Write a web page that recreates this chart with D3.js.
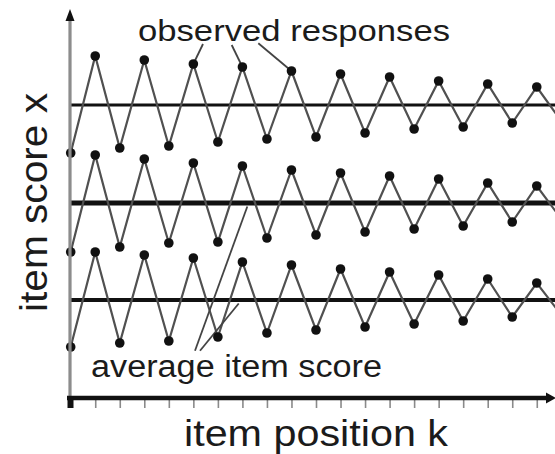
<!DOCTYPE html>
<html>
<head>
<meta charset="utf-8">
<script src="https://cdn.jsdelivr.net/npm/d3@7"></script>
<style>
  body { margin: 0; background: #fff; }
  text { font-family: "Liberation Sans", Arial, sans-serif; fill: #1b1b1b; }
</style>
</head>
<body>
<svg id="chart" width="555" height="454"></svg>
<script>
// Item positions k along the test
const positions = [0, 1, 2, 3, 4, 5, 6, 7, 8, 9, 10, 11, 12, 13, 14, 15, 16, 17, 18, 19, 20];

// Observed item scores x for three response patterns (upper, middle, lower)
const upperScores  = [24.5, 34.2, 25.0, 33.8, 25.2, 33.4, 25.6, 33.1, 25.9, 32.7, 26.1, 32.4, 26.5, 32.1, 26.9, 31.7, 27.1, 31.4, 27.5, 31.1, 27.7];
const middleScores = [14.6, 24.3, 15.1, 23.9, 15.5, 23.5, 15.6, 23.2, 16.0, 22.8, 16.3, 22.5, 16.6, 22.2, 16.9, 21.9, 17.2, 21.5, 17.6, 21.2, 17.9];
const lowerScores  = [5.1, 14.6, 5.5, 14.3, 5.7, 14.0, 6.1, 13.6, 6.5, 13.3, 6.8, 12.9, 7.1, 12.6, 7.4, 12.3, 7.7, 11.9, 8.1, 11.5, 8.3];

// Average item score of each pattern
const averageScores = [29.3, 19.5, 9.8];

// Tick marks on the item-position axis
const xTicks = [1, 2, 3, 4, 5, 6, 7, 8, 9, 10, 11, 12, 13, 14, 15, 16, 17, 18, 19];

// Texts
const xTitle = "item position k";
const yTitle = "item score x";
const observedLabel = "observed responses";
const averageLabel = "average item score";

const svg = d3.select("#chart");
const W = 555;

const x = d3.scaleLinear().domain([0, 20]).range([70.7, 561.3]);
const y = d3.scaleLinear().domain([0, 38]).range([398, 18]);

const series = [upperScores, middleScores, lowerScores];
const meanWidths = [3, 5, 4];

// Average lines
svg.selectAll("line.mean")
  .data(averageScores)
  .join("line")
  .attr("class", "mean")
  .attr("x1", x(0)).attr("x2", W)
  .attr("y1", d => y(d)).attr("y2", d => y(d))
  .attr("stroke", "#111")
  .attr("stroke-width", (d, i) => meanWidths[i]);

// Zigzag response lines
const line = d3.line().x((d, i) => x(positions[i])).y(d => y(d));
svg.selectAll("path.resp")
  .data(series)
  .join("path")
  .attr("class", "resp")
  .attr("d", line)
  .attr("fill", "none")
  .attr("stroke", "#505050")
  .attr("stroke-width", 2.2)
  .attr("stroke-linejoin", "miter");

// Leader lines for annotations
const leader = svg.append("g")
  .attr("stroke", "#444")
  .attr("stroke-width", 1.8);

[[203, 44, 5], [231.7, 45, 7], [258.3, 43.3, 9]].forEach(([sx, sy, k]) => {
  leader.append("line")
    .attr("x1", sx).attr("y1", sy)
    .attr("x2", x(k)).attr("y2", y(upperScores[k]));
});

[[195, 350.7, 7.2, 1], [200, 350.7, 6.85, 2]].forEach(([sx, sy, k, s]) => {
  leader.append("line")
    .attr("x1", sx).attr("y1", sy)
    .attr("x2", x(k)).attr("y2", y(averageScores[s]) + 3.5);
});

// Observed response dots
series.forEach(vals => {
  svg.append("g").selectAll("circle")
    .data(vals)
    .join("circle")
    .attr("cx", (d, i) => x(positions[i]))
    .attr("cy", d => y(d))
    .attr("r", 4.8)
    .attr("fill", "#111");
});

// Y axis (grey shaft with black arrowhead)
const y0 = y(0), yTop = y.range()[1];
svg.append("line")
  .attr("x1", 70).attr("x2", 70)
  .attr("y1", y0).attr("y2", yTop - 4)
  .attr("stroke", "#8c8c8c")
  .attr("stroke-width", 3.2);
svg.append("path")
  .attr("d", `M70,${yTop - 9} L65.5,${yTop + 3} L74.5,${yTop + 3} Z`)
  .attr("fill", "#111");

// X axis ticks
const axis = d3.axisBottom(x).tickValues(xTicks).tickSize(10).tickSizeOuter(0).tickFormat("");
const ax = svg.append("g").attr("transform", `translate(0,${y0})`).call(axis);
ax.select(".domain").remove();
ax.selectAll(".tick line").attr("stroke", "#8a8a8a").attr("stroke-width", 1.6);

// X axis shaft and arrowhead
svg.append("line")
  .attr("x1", 67).attr("x2", W - 6)
  .attr("y1", y0).attr("y2", y0)
  .attr("stroke", "#111")
  .attr("stroke-width", 4.5);
svg.append("rect")
  .attr("x", 67.5).attr("y", y0 - 2)
  .attr("width", 6).attr("height", 12)
  .attr("fill", "#111");
svg.append("path")
  .attr("d", `M${W + 1},${y0} L${W - 9},${y0 - 5.5} L${W - 9},${y0 + 5.5} Z`)
  .attr("fill", "#111");

// Annotation texts
svg.append("text")
  .attr("x", 138).attr("y", 40.5)
  .attr("font-size", 30)
  .attr("textLength", 312).attr("lengthAdjust", "spacingAndGlyphs")
  .text(observedLabel);

svg.append("text")
  .attr("x", 91).attr("y", 377)
  .attr("font-size", 31)
  .attr("textLength", 291).attr("lengthAdjust", "spacingAndGlyphs")
  .text(averageLabel);

// Axis titles
svg.append("text")
  .attr("x", 184).attr("y", 446)
  .attr("font-size", 36)
  .attr("textLength", 264).attr("lengthAdjust", "spacingAndGlyphs")
  .text(xTitle);

svg.append("text")
  .attr("transform", "translate(47,312) rotate(-90)")
  .attr("font-size", 38)
  .attr("textLength", 219).attr("lengthAdjust", "spacingAndGlyphs")
  .text(yTitle);
</script>
</body>
</html>
